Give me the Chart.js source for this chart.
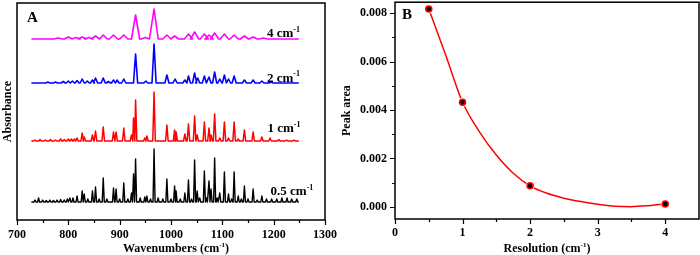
<!DOCTYPE html>
<html><head><meta charset="utf-8">
<script src="https://cdn.jsdelivr.net/npm/chart.js@4/dist/chart.umd.min.js"></script>
<style>
html,body{margin:0;padding:0;background:#fff;width:700px;height:255px;overflow:hidden;position:relative}
canvas{position:absolute}
#ca{left:0;top:0}
#cb{left:335px;top:-13px}
</style></head>
<body>
<canvas id="ca" width="345" height="255"></canvas>
<canvas id="cb" width="365" height="268"></canvas>
<script>
// ---------- DATA (panel A: FTIR spectra, peak [wavenumber, height a.u.]) ----------
const wavenumberRange = [728, 1249];
const xTicksA = [700, 800, 900, 1000, 1100, 1200, 1300];
const seriesLabelsA = ['0.5', '1', '2', '4'];
const peaks05 = [[735,2],[742,4],[750,2],[757,1.5],[764,2],[771,1.5],[778,2],[785,2.5],[792,2],[798,3],[803,4],[809,4],[817,6],[827,11],[831,8],[838,3],[847,11],[853,15],[860,3],[868,24],[875,3],[888,14],[893,13],[900,3],[908,19],[916,3],[923,9],[927,28],[931,43],[940,4],[949,5],[953,6],[960,3],[967,53],[975,4],[984,3],[992,23],[1000,3],[1007,16],[1010,11],[1018,3],[1027,9],[1034,22],[1040,3],[1046,42],[1051,11],[1056,4],[1065,31],[1069,4],[1074,21],[1078,13],[1085,44],[1090,4],[1095,9],[1104,30],[1112,8],[1118,3],[1123,30],[1131,6],[1137,3],[1143,16],[1150,3],[1160,13],[1168,2],[1177,6],[1186,3],[1196,3],[1206,3],[1216,4],[1226,4],[1235,3],[1245,3]];
const peaks1 = [[735,1],[745,1.5],[755,1],[765,1.5],[775,1],[785,2],[792,1.5],[800,2],[806,2],[812,2],[817,3],[827,8],[831,4],[847,6],[853,10],[868,14],[888,9],[893,9],[908,13],[923,6],[927,23],[931,41],[949,3],[953,5],[967,49],[992,16],[1007,11],[1010,9],[1027,7],[1034,17],[1046,25],[1051,6],[1065,19],[1074,13],[1078,6],[1085,27],[1095,3],[1104,19],[1112,3],[1123,19],[1131,2],[1143,11],[1160,9],[1177,4],[1193,3],[1210,1.5],[1225,1],[1240,1]];
const peaks2 = [[760,1],[775,1],[790,1.5],[800,2],[808,2],[817,2.5],[827,4],[837,2],[847,3],[853,5],[868,5],[878,1.5],[888,3],[895,3],[908,4],[931,29],[951,2],[967,39],[992,8],[1008,4],[1027,3],[1034,7],[1046,10],[1052,5],[1065,7],[1074,6],[1085,11],[1095,4],[1104,8],[1112,4],[1123,7],[1143,3],[1160,3],[1177,2],[1195,1]];
const peaks4 = [[780,1],[800,2],[815,1.5],[827,2],[840,1.5],[853,3],[868,4],[888,4],[908,4],[931,24],[950,1.5],[967,30],[992,4],[1007,3],[1034,5],[1046,7],[1065,5],[1074,4],[1085,6],[1104,5],[1123,4],[1143,3],[1160,2],[1180,1]];

// ---------- DATA (panel B: peak area vs resolution) ----------
const resolution = [0.5, 1, 2, 4];
const peakArea = [0.00817, 0.00432, 0.00087, 0.00012];
const fitX = [0.5, 0.75, 1.0, 1.25, 1.5, 1.75, 2.0, 2.25, 2.5, 2.75, 3.0, 3.25, 3.5, 3.75, 4.0];
const fitY = [0.00817, 0.00627, 0.00432, 0.0031, 0.00214, 0.00139, 0.00087, 0.00056, 0.00036, 0.00022, 0.00011, 0.00003, 0.00001, 0.00005, 0.00012];
const xTicksB = [0, 1, 2, 3, 4];
const yTicksB = [0, 0.002, 0.004, 0.006, 0.008];

// ---------- STYLE / LAYOUT ----------
const FONT = "'Liberation Serif', 'Times New Roman', serif";
const seriesStyle = [
  {peaks: peaks05, color: '#000000', offset: 18,  w: 2,   lw: 1.4, lx: 1194, ly: 7},
  {peaks: peaks1,  color: '#ff0000', offset: 79,  w: 2.5, lw: 1.5, lx: 1188, ly: 9},
  {peaks: peaks2,  color: '#0000ff', offset: 137, w: 4,   lw: 1.6, lx: 1187, ly: 1.5},
  {peaks: peaks4,  color: '#ff00ff', offset: 181, w: 8,   lw: 1.6, lx: 1187, ly: 2}
];

function buildSpectrum(peaks, offset, w) {
  const pts = [{x: wavenumberRange[0], y: offset}];
  for (const [p, h] of peaks) {
    pts.push({x: p - w, y: offset}, {x: p, y: offset + h}, {x: p + w, y: offset});
  }
  pts.push({x: wavenumberRange[1], y: offset});
  return pts;
}

function drawSup(ctx, x, y, parts, size, align) {
  const big = 'bold ' + size + 'px ' + FONT, small = 'bold ' + Math.round(size * 0.62) + 'px ' + FONT;
  let total = 0;
  for (const [t, sup] of parts) { ctx.font = sup ? small : big; total += ctx.measureText(t).width; }
  let cx = align === 'center' ? x - total / 2 : x;
  ctx.textAlign = 'left'; ctx.textBaseline = 'alphabetic'; ctx.fillStyle = '#000';
  for (const [t, sup] of parts) {
    ctx.font = sup ? small : big;
    ctx.fillText(t, cx, sup ? y - size * 0.42 : y);
    cx += ctx.measureText(t).width;
  }
}

function frameAndTicks(chart, xMajor, xMinor, yMajor, yMinor) {
  const {ctx, chartArea: a} = chart;
  const xs = chart.scales.x, ys = chart.scales.y;
  ctx.save();
  ctx.strokeStyle = '#000'; ctx.lineWidth = 1.5;
  ctx.strokeRect(a.left, a.top, a.right - a.left, a.bottom - a.top);
  ctx.lineWidth = 1.2;
  ctx.beginPath();
  for (const v of xMajor) { const p = Math.round(xs.getPixelForValue(v)) + 0.5; ctx.moveTo(p, a.bottom); ctx.lineTo(p, a.bottom + 5); }
  for (const v of xMinor) { const p = Math.round(xs.getPixelForValue(v)) + 0.5; ctx.moveTo(p, a.bottom); ctx.lineTo(p, a.bottom + 3); }
  for (const v of yMajor) { const p = Math.round(ys.getPixelForValue(v)) + 0.5; ctx.moveTo(a.left, p); ctx.lineTo(a.left - 5, p); }
  for (const v of yMinor) { const p = Math.round(ys.getPixelForValue(v)) + 0.5; ctx.moveTo(a.left, p); ctx.lineTo(a.left - 3, p); }
  ctx.stroke();
  ctx.restore();
}

// ---------- PANEL A ----------
const datasetsA = seriesStyle.map(s => ({
  data: buildSpectrum(s.peaks, s.offset, s.w),
  showLine: true, borderColor: s.color, borderWidth: s.lw, pointRadius: 0, tension: 0, fill: false,
  borderJoinStyle: 'round'
}));

const pluginA = {
  id: 'decorA',
  afterDraw(chart) {
    const ctx = chart.ctx, xs = chart.scales.x, ys = chart.scales.y, a = chart.chartArea;
    frameAndTicks(chart, xTicksA, [750, 850, 950, 1050, 1150, 1250], [], []);
    ctx.save();
    ctx.fillStyle = '#000';
    ctx.font = 'bold 15px ' + FONT; ctx.textAlign = 'left'; ctx.textBaseline = 'alphabetic';
    ctx.fillText('A', 27, 22);
    seriesStyle.forEach((s, i) => {
      drawSup(ctx, xs.getPixelForValue(s.lx), ys.getPixelForValue(s.offset + s.ly),
        [[seriesLabelsA[i] + ' cm', false], ['-1', true]], 13, 'left');
    });
    drawSup(ctx, (a.left + a.right) / 2 + 5, 252, [['Wavenumbers (cm', false], ['-1', true], [')', false]], 12, 'center');
    ctx.translate(11, (a.top + a.bottom) / 2);
    ctx.rotate(-Math.PI / 2);
    ctx.font = 'bold 12px ' + FONT; ctx.textAlign = 'center'; ctx.textBaseline = 'alphabetic';
    ctx.fillText('Absorbance', 0, 0);
    ctx.restore();
  }
};

new Chart(document.getElementById('ca'), {
  type: 'scatter',
  data: {datasets: datasetsA},
  options: {
    responsive: false, animation: false, devicePixelRatio: 1,
    layout: {padding: {left: 0, right: 0, top: 3, bottom: 0}, autoPadding: false},
    plugins: {legend: {display: false}, tooltip: {enabled: false}},
    scales: {
      x: {
        type: 'linear', min: 700, max: 1300,
        afterBuildTicks: s => { s.ticks = xTicksA.map(v => ({value: v})); },
        afterFit: s => { s.height = 35; },
        grid: {display: false, drawTicks: false},
        border: {display: false},
        ticks: {color: '#000', padding: 8, maxRotation: 0, font: {family: FONT, size: 12, weight: 'bold'}, callback: v => String(v)}
      },
      y: {
        type: 'linear', min: 0, max: 217,
        afterFit: s => { s.width = 17; },
        grid: {display: false, drawTicks: false},
        border: {display: false},
        ticks: {display: false}
      }
    }
  },
  plugins: [pluginA]
});

// ---------- PANEL B ----------
const pluginB = {
  id: 'decorB',
  afterDraw(chart) {
    const ctx = chart.ctx, a = chart.chartArea;
    frameAndTicks(chart, xTicksB, [0.5, 1.5, 2.5, 3.5], yTicksB, [0.001, 0.003, 0.005, 0.007]);
    ctx.save();
    ctx.fillStyle = '#000';
    ctx.font = 'bold 15px ' + FONT; ctx.textAlign = 'left'; ctx.textBaseline = 'alphabetic';
    ctx.fillText('B', a.left + 7, a.top + 17);
    ctx.restore();
    ctx.save();
    drawSup(ctx, (a.left + a.right) / 2, a.bottom + 33, [['Resolution (cm', false], ['-1', true], [')', false]], 12, 'center');
    ctx.translate(15, (a.top + a.bottom) / 2);
    ctx.rotate(-Math.PI / 2);
    ctx.fillStyle = '#000';
    ctx.font = 'bold 12px ' + FONT; ctx.textAlign = 'center'; ctx.textBaseline = 'alphabetic';
    ctx.fillText('Peak area', 0, 0);
    ctx.restore();
  }
};

const pointsB = resolution.map((r, i) => ({x: r, y: peakArea[i]}));
new Chart(document.getElementById('cb'), {
  type: 'scatter',
  data: {
    datasets: [
      {data: pointsB, showLine: false,
       pointRadius: 3, pointBackgroundColor: '#000', pointBorderColor: '#ff0000', pointBorderWidth: 1.6, order: 0},
      {data: pointsB, showLine: false,
       pointRadius: 4.5, pointBackgroundColor: '#fff', pointBorderWidth: 0, order: 1},
      {data: fitX.map((r, i) => ({x: r, y: fitY[i]})), showLine: true, borderColor: '#ff0000', borderWidth: 1.5,
       pointRadius: 0, cubicInterpolationMode: 'monotone', fill: false, order: 2}
    ]
  },
  options: {
    responsive: false, animation: false, devicePixelRatio: 1,
    layout: {padding: {left: 0, right: 1, top: 15, bottom: 0}, autoPadding: false},
    plugins: {legend: {display: false}, tooltip: {enabled: false}},
    scales: {
      x: {
        type: 'linear', min: 0, max: 4.5,
        afterBuildTicks: s => { s.ticks = xTicksB.map(v => ({value: v})); },
        afterFit: s => { s.height = 36; },
        grid: {display: false, drawTicks: false},
        border: {display: false},
        ticks: {color: '#000', padding: 7, maxRotation: 0, font: {family: FONT, size: 12, weight: 'bold'}, callback: v => String(v)}
      },
      y: {
        type: 'linear', min: -0.0005, max: 0.00845,
        afterBuildTicks: s => { s.ticks = yTicksB.map(v => ({value: v})); },
        afterFit: s => { s.width = 60; },
        grid: {display: false, drawTicks: false},
        border: {display: false},
        ticks: {color: '#000', padding: 8, font: {family: FONT, size: 12, weight: 'bold'}, callback: v => Number(v).toFixed(3)}
      }
    }
  },
  plugins: [pluginB]
});
</script>
</body></html>
